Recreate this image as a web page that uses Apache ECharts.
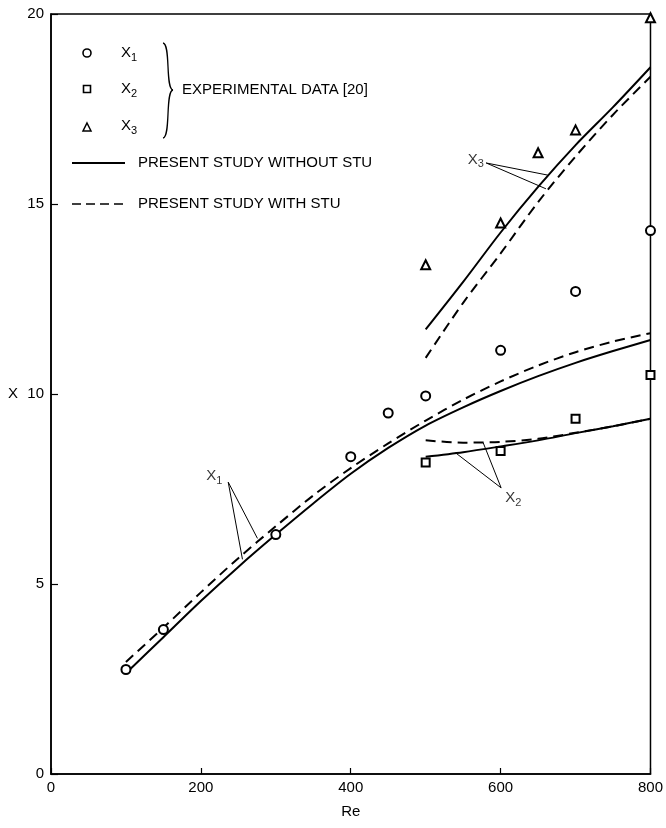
<!DOCTYPE html>
<html>
<head>
<meta charset="utf-8">
<script src="https://cdn.jsdelivr.net/npm/echarts@6/dist/echarts.min.js"></script>
<style>
  html, body { margin: 0; padding: 0; background: #fff; }
  #chart { width: 666px; height: 828px; }
</style>
</head>
<body>
<div id="chart"></div>
<script>
// experimental points [20]
const reExp1 = [100, 150, 300, 400, 450, 500, 600, 700, 800];
const x1Exp = [2.75, 3.8, 6.3, 8.35, 9.5, 9.95, 11.15, 12.7, 14.3];
const reExp2 = [500, 600, 700, 800];
const x2Exp = [8.2, 8.5, 9.35, 10.5];
const reExp3 = [500, 600, 650, 700, 800];
const x3Exp = [13.4, 14.5, 16.35, 16.95, 19.9];

// present study curves
const reCurve1 = [100, 150, 200, 250, 300, 350, 400, 450, 500, 550, 600, 650, 700, 750, 800];
const x1Without = [2.65, 3.6, 4.55, 5.45, 6.3, 7.12, 7.9, 8.58, 9.17, 9.65, 10.08, 10.47, 10.82, 11.13, 11.42];
const x1With = [2.95, 3.85, 4.78, 5.68, 6.52, 7.33, 8.05, 8.7, 9.3, 9.85, 10.33, 10.75, 11.1, 11.38, 11.6];
const reCurve2 = [500, 550, 600, 650, 700, 750, 800];
const x2Without = [8.35, 8.47, 8.62, 8.78, 8.97, 9.15, 9.35];
const x2With = [8.78, 8.72, 8.74, 8.82, 8.98, 9.15, 9.35];
const reCurve3 = [500, 550, 600, 650, 700, 750, 800];
const x3Without = [11.7, 12.95, 14.25, 15.45, 16.55, 17.55, 18.6];
const x3With = [10.95, 12.4, 13.7, 15.05, 16.25, 17.35, 18.35];

const xTicks = [0, 200, 400, 600, 800];
const yTicks = [0, 5, 10, 15, 20];

// curve labels and their leader lines
const curveLabels = [
  { name: "1", at: [218, 7.84] },
  { name: "2", at: [617, 7.26] },
  { name: "3", at: [567, 16.16] },
];
const leaders = [
  [[236.5, 7.68], [255.5, 5.65]],
  [[236.5, 7.68], [275.5, 6.2]],
  [[600.7, 7.53], [576.7, 8.72]],
  [[600.7, 7.53], [540, 8.45]],
  [[580.7, 16.08], [663, 15.76]],
  [[580.7, 16.08], [660.5, 15.4]],
];

const FONT = "Liberation Sans, Arial, sans-serif";
const zip = (xs, ys) => xs.map((x, i) => [x, ys[i]]);

const subRich = {
  a: { fontSize: 15, fontFamily: FONT, color: "#000", lineHeight: 18 },
  s: { fontSize: 11, fontFamily: FONT, color: "#000", lineHeight: 18, padding: [9, 0, 0, 0] },
};

function curve(name, xs, ys, dashed) {
  return {
    name: name,
    type: "line",
    data: zip(xs, ys),
    smooth: 0.3,
    showSymbol: false,
    silent: true,
    z: 2,
    lineStyle: { color: "#000", width: 2, type: dashed ? [10, 6] : "solid" },
  };
}

function points(name, xs, ys, symbol, size) {
  return {
    name: name,
    type: "scatter",
    data: zip(xs, ys),
    symbol: symbol,
    symbolSize: size,
    z: 4,
    itemStyle: { color: "#000", borderColor: "#000", borderWidth: 1.4, opacity: 1 },
  };
}

const chart = echarts.init(document.getElementById("chart"));
chart.setOption({
  animation: false,
  backgroundColor: "#fff",
  grid: {
    left: 51, right: 13, top: 14, bottom: 54,
    show: true, borderColor: "#000", borderWidth: 1.5, backgroundColor: "transparent",
  },
  xAxis: {
    type: "value",
    min: xTicks[0], max: xTicks[xTicks.length - 1], interval: 200,
    name: "Re", nameLocation: "middle", nameGap: 30,
    nameTextStyle: { fontSize: 15, fontFamily: FONT, color: "#000" },
    axisLine: { lineStyle: { color: "#000", width: 1.5 } },
    axisTick: { inside: true, length: 6, lineStyle: { color: "#000", width: 1.2 } },
    axisLabel: { fontSize: 15, fontFamily: FONT, color: "#000", margin: 6 },
    splitLine: { show: false },
  },
  yAxis: {
    type: "value",
    min: yTicks[0], max: yTicks[yTicks.length - 1], interval: 5,
    name: "X", nameLocation: "middle", nameGap: 33, nameRotate: 0,
    nameTextStyle: { fontSize: 15, fontFamily: FONT, color: "#000" },
    axisLine: { lineStyle: { color: "#000", width: 1.5 } },
    axisTick: { inside: true, length: 7, lineStyle: { color: "#000", width: 1.2 } },
    axisLabel: { fontSize: 15, fontFamily: FONT, color: "#000", margin: 7 },
    splitLine: { show: false },
  },
  series: [
    curve("X1 without STU", reCurve1, x1Without, false),
    curve("X1 with STU", reCurve1, x1With, true),
    curve("X2 without STU", reCurve2, x2Without, false),
    curve("X2 with STU", reCurve2, x2With, true),
    curve("X3 without STU", reCurve3, x3Without, false),
    curve("X3 with STU", reCurve3, x3With, true),
    points("X1", reExp1, x1Exp, "emptyCircle", 9),
    points("X2", reExp2, x2Exp, "emptyRect", 8),
    points("X3", reExp3, x3Exp, "emptyTriangle", 9),
    {
      type: "lines",
      coordinateSystem: "cartesian2d",
      silent: true,
      z: 3,
      lineStyle: { color: "#000", width: 1, opacity: 1 },
      data: leaders.map((c) => ({ coords: c })),
    },
    {
      type: "scatter",
      symbolSize: 0,
      silent: true,
      z: 5,
      data: curveLabels.map((l) => ({ value: l.at, name: l.name })),
      label: {
        show: true,
        position: "inside",
        formatter: (p) => "{a|X}{s|" + p.name + "}",
        rich: subRich,
      },
    },
  ],
  graphic: [
    // legend: experimental symbols
    { type: "circle", shape: { cx: 87, cy: 53, r: 4 }, style: { fill: "#fff", stroke: "#000", lineWidth: 1.6 } },
    { type: "rect", shape: { x: 83.5, y: 85.5, width: 7, height: 7 }, style: { fill: "#fff", stroke: "#000", lineWidth: 1.6 } },
    { type: "polygon", shape: { points: [[87, 123], [91, 131], [83, 131]] }, style: { fill: "#fff", stroke: "#000", lineWidth: 1.5 } },
    { type: "text", x: 121, y: 44, style: { text: "{a|X}{s|1}", rich: subRich } },
    { type: "text", x: 121, y: 80, style: { text: "{a|X}{s|2}", rich: subRich } },
    { type: "text", x: 121, y: 117, style: { text: "{a|X}{s|3}", rich: subRich } },
    // curly brace
    {
      type: "bezierCurve",
      shape: { x1: 163, y1: 43, cpx1: 171, cpy1: 44, cpx2: 165, cpy2: 89, x2: 173, y2: 90 },
      style: { fill: "none", stroke: "#000", lineWidth: 1.3 },
    },
    {
      type: "bezierCurve",
      shape: { x1: 173, y1: 90, cpx1: 165, cpy1: 91, cpx2: 171, cpy2: 137, x2: 163, y2: 138 },
      style: { fill: "none", stroke: "#000", lineWidth: 1.3 },
    },
    { type: "text", x: 182, y: 90, style: { text: "EXPERIMENTAL DATA [20]", font: "15px " + FONT, fill: "#000", verticalAlign: "middle" } },
    // legend: model lines
    { type: "line", shape: { x1: 72, y1: 163, x2: 125, y2: 163 }, style: { stroke: "#000", lineWidth: 2 } },
    { type: "text", x: 138, y: 163, style: { text: "PRESENT STUDY WITHOUT STU", font: "15px " + FONT, fill: "#000", verticalAlign: "middle" } },
    { type: "line", shape: { x1: 72, y1: 204, x2: 125, y2: 204 }, style: { stroke: "#000", lineWidth: 1.5, lineDash: [9, 5] } },
    { type: "text", x: 138, y: 204, style: { text: "PRESENT STUDY WITH STU", font: "15px " + FONT, fill: "#000", verticalAlign: "middle" } },
  ],
});
</script>
</body>
</html>
